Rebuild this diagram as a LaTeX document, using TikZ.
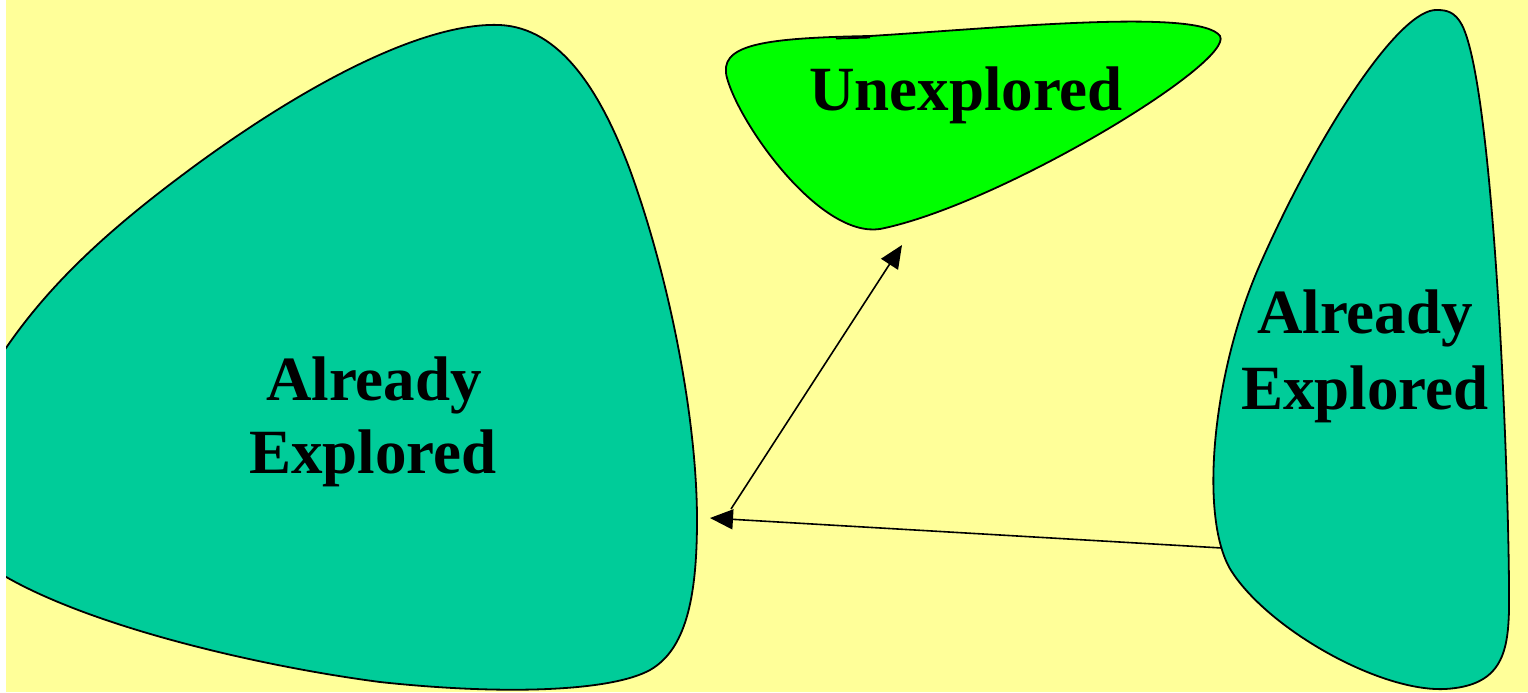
\documentclass[tikz,border=0pt]{standalone}
\usepackage{fontspec}
\setmainfont{Liberation Serif}
\usetikzlibrary{arrows.meta}
\definecolor{paper}{HTML}{FFFF99}
\definecolor{explored}{HTML}{00CC99}
\definecolor{fresh}{HTML}{00FF00}
\tikzset{
  region/.style={draw=black, line width=0.9pt},
  label/.style={font=\fontsize{31.5}{36}\selectfont\bfseries, anchor=base, inner sep=0pt},
  link/.style={draw=black, line width=0.8pt, -{Triangle[length=11.5pt,width=10pt]}},
}
\begin{document}
\begin{tikzpicture}[x=0.5pt,y=-0.5pt]
\useasboundingbox (0,0) rectangle (1528,692);
\fill[white] (0,0) rectangle (1528,692);
\fill[paper] (6,0) rectangle (1528,692);
\begin{scope}
\clip (6,0) rectangle (1528,692);
% large explored region on the left
\path[region, fill=explored] (-20,390)
  .. controls (30,300) and (100,235) .. (200,162)
  .. controls (320,75) and (430,22) .. (500,25)
  .. controls (560,28) and (600,90) .. (630,170)
  .. controls (670,280) and (697,420) .. (697,520)
  .. controls (697,600) and (685,650) .. (650,670)
  .. controls (610,692) and (500,695) .. (380,682)
  .. controls (250,665) and (60,620) .. (-20,560)
  -- cycle;
% unexplored region at the top
\path[region, fill=fresh] (870,36)
  .. controls (1000,28) and (1200,8) .. (1220,36)
  .. controls (1235,62) and (1000,205) .. (880,229)
  .. controls (820,238) and (740,125) .. (727,78)
  .. controls (718,45) and (760,38) .. (870,36)
  -- cycle;
\draw[line width=0.9pt] (836,38.5) -- (870,37.5);
% explored region on the right
\path[region, fill=explored] (1437,10)
  .. controls (1400,8) and (1320,130) .. (1262,260)
  .. controls (1212,370) and (1198,520) .. (1232,572)
  .. controls (1270,630) and (1380,692) .. (1445,689)
  .. controls (1500,686) and (1508,655) .. (1509,610)
  .. controls (1510,500) and (1495,90) .. (1462,25)
  .. controls (1455,12) and (1447,10) .. (1437,10);
\end{scope}
% labels
\node[label] (l1) at (374,400) {Already};
\node[label] (l2) at (373,473) {Explored};
\node[label] (u) at (966,110) {Unexplored};
\node[label] (r1) at (1365,333) {Already};
\node[label] (r2) at (1365,409) {Explored};
% connectors
\coordinate (src) at (1222,548);
\coordinate (hit) at (710,518);
\coordinate (fork) at (731,509);
\coordinate (goal) at (902,245);
\draw[link] (src) -- (hit);
\draw[link] (fork) -- (goal);
\end{tikzpicture}
\end{document}
